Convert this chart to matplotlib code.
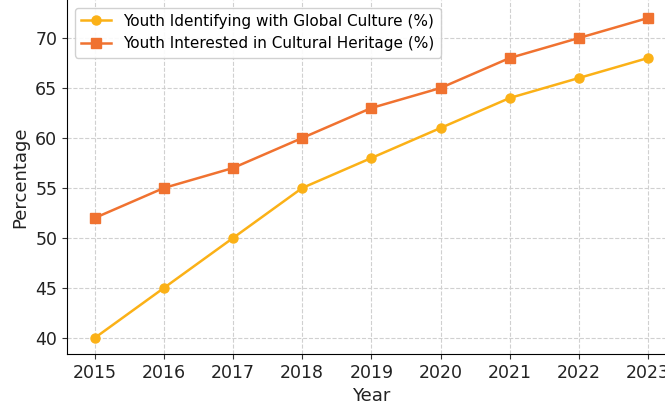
import matplotlib.pyplot as plt

years = [2015, 2016, 2017, 2018, 2019, 2020, 2021, 2022, 2023]
global_culture = [40, 45, 50, 55, 58, 61, 64, 66, 68]
heritage = [52, 55, 57, 60, 63, 65, 68, 70, 72]

fig = plt.figure(figsize=(6.65, 4.03), dpi=100)
ax = fig.add_axes([67 / 665, 49 / 403, (675.7 - 67) / 665, (403 - 49) / 403])

ax.plot(years, global_culture, marker='o', color='#FBB117', linewidth=1.8,
        markersize=6.5, label='Youth Identifying with Global Culture (%)')
ax.plot(years, heritage, marker='s', color='#F07230', linewidth=1.8,
        markersize=6.5, label='Youth Interested in Cultural Heritage (%)')

ax.set_xlim(2014.6, 2023.4)
ax.set_ylim(38.4, 73.8)
ax.set_xticks(years)
ax.set_yticks([40, 45, 50, 55, 60, 65, 70])
ax.tick_params(labelsize=12.5, colors='#333333', labelcolor='#222222')
ax.set_xlabel('Year', fontsize=13, color='#222222')
ax.set_ylabel('Percentage', fontsize=13, color='#222222')
ax.grid(True, linestyle='--', color='#d0d0d0', linewidth=0.8)
ax.spines['top'].set_visible(False)
ax.spines['right'].set_visible(False)
ax.legend(loc='upper left', fontsize=11, framealpha=0.9, edgecolor='#cccccc')

fig.savefig('out.png', dpi=100)
